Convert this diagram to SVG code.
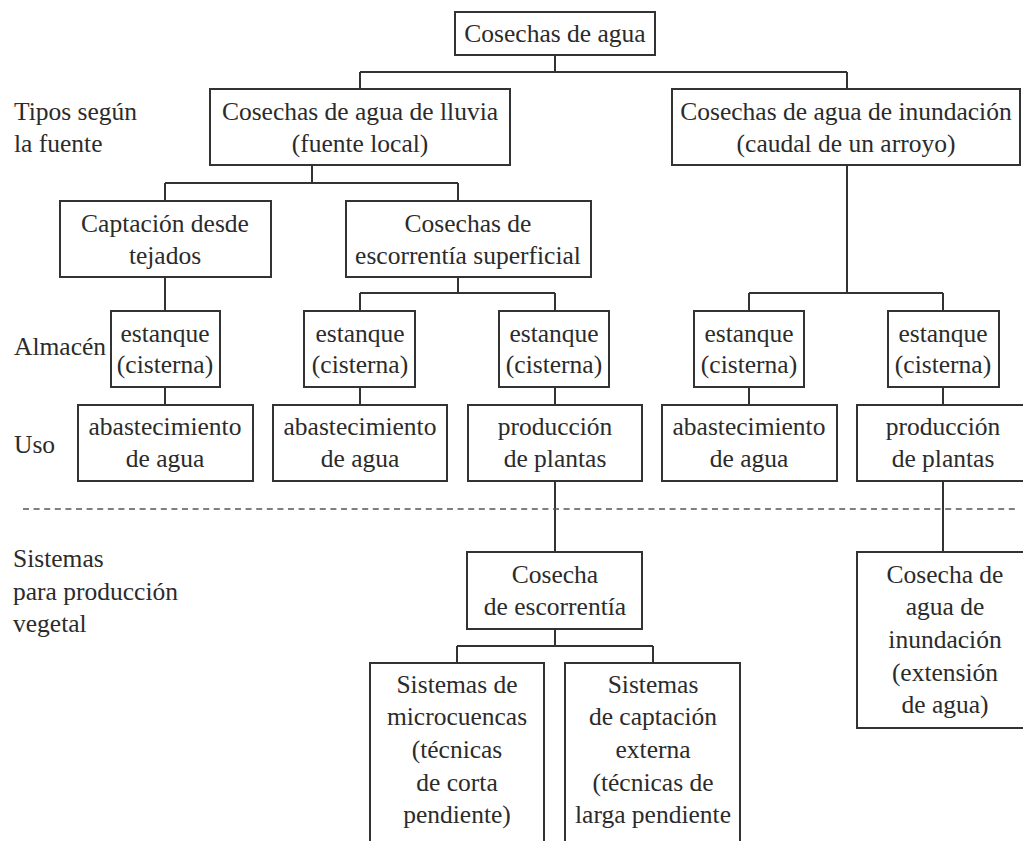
<svg xmlns="http://www.w3.org/2000/svg" width="1023" height="841" viewBox="0 0 1023 841">
<style>
  .box { fill: #ffffff; stroke: #333333; stroke-width: 2; }
  .t { font-family: "Liberation Serif", "Times New Roman", serif; font-size: 25.5px; fill: #2b2b2b; text-anchor: middle; }
  .lbl { font-family: "Liberation Serif", "Times New Roman", serif; font-size: 25.5px; fill: #2b2b2b; }
  .con { stroke: #333333; stroke-width: 2; fill: none; }
  .dash { stroke: #555555; stroke-width: 1.6; stroke-dasharray: 6 4.6; fill: none; }
</style>
<rect width="1023" height="841" fill="#ffffff"/>

<g id="labels">
  <text class="lbl" x="14" y="120">Tipos según</text>
  <text class="lbl" x="14" y="152">la fuente</text>
  <text class="lbl" x="14" y="355">Almacén</text>
  <text class="lbl" x="14" y="453">Uso</text>
  <text class="lbl" x="13" y="567">Sistemas</text>
  <text class="lbl" x="13" y="600">para producción</text>
  <text class="lbl" x="13" y="632">vegetal</text>
</g>

<g id="connectors">
  <path class="con" d="M555,55 V72 M360,72 H847 M360,72 V89 M847,72 V89"/>
  <path class="con" d="M312,165 V183 M165,183 H458 M165,183 V201 M458,183 V201"/>
  <path class="con" d="M165,277 V311 M165,387 V405"/>
  <path class="con" d="M458,277 V293 M360,293 H555 M360,293 V311 M555,293 V311"/>
  <path class="con" d="M360,387 V405 M555,387 V405"/>
  <path class="con" d="M847,165 V293 M749,293 H943 M749,293 V311 M943,293 V311"/>
  <path class="con" d="M749,387 V405 M943,387 V405"/>
  <path class="con" d="M555,481 V552 M943,481 V552"/>
  <path class="con" d="M555,629 V646 M457,646 H653 M457,646 V663 M653,646 V663"/>
  <path class="dash" d="M23,509 H1017"/>
</g>

<g id="n-root">
  <rect class="box" x="455" y="12" width="200" height="43"/>
  <text class="t" x="555" y="42">Cosechas de agua</text>
</g>

<g id="n-lluvia">
  <rect class="box" x="210" y="89" width="300" height="76"/>
  <text class="t" x="360" y="120">Cosechas de agua de lluvia</text>
  <text class="t" x="360" y="152">(fuente local)</text>
</g>

<g id="n-inundacion">
  <rect class="box" x="672" y="89" width="348" height="76"/>
  <text class="t" x="846" y="120">Cosechas de agua de inundación</text>
  <text class="t" x="846" y="152">(caudal de un arroyo)</text>
</g>

<g id="n-tejados">
  <rect class="box" x="60" y="201" width="211" height="76"/>
  <text class="t" x="165" y="232">Captación desde</text>
  <text class="t" x="165" y="264">tejados</text>
</g>

<g id="n-escorrentia-sup">
  <rect class="box" x="346" y="201" width="245" height="76"/>
  <text class="t" x="468" y="232">Cosechas de</text>
  <text class="t" x="468" y="264">escorrentía superficial</text>
</g>

<g id="n-estanque1">
  <rect class="box" x="111" y="311" width="109" height="76"/>
  <text class="t" x="165" y="342">estanque</text>
  <text class="t" x="165" y="373">(cisterna)</text>
</g>
<g id="n-estanque2">
  <rect class="box" x="304" y="311" width="111" height="76"/>
  <text class="t" x="360" y="342">estanque</text>
  <text class="t" x="360" y="373">(cisterna)</text>
</g>
<g id="n-estanque3">
  <rect class="box" x="499" y="311" width="110" height="76"/>
  <text class="t" x="554" y="342">estanque</text>
  <text class="t" x="554" y="373">(cisterna)</text>
</g>
<g id="n-estanque4">
  <rect class="box" x="694" y="311" width="110" height="76"/>
  <text class="t" x="749" y="342">estanque</text>
  <text class="t" x="749" y="373">(cisterna)</text>
</g>
<g id="n-estanque5">
  <rect class="box" x="888" y="311" width="111" height="76"/>
  <text class="t" x="943" y="342">estanque</text>
  <text class="t" x="943" y="373">(cisterna)</text>
</g>

<g id="n-uso1">
  <rect class="box" x="78" y="405" width="175" height="76"/>
  <text class="t" x="165" y="435">abastecimiento</text>
  <text class="t" x="165" y="467">de agua</text>
</g>
<g id="n-uso2">
  <rect class="box" x="273" y="405" width="174" height="76"/>
  <text class="t" x="360" y="435">abastecimiento</text>
  <text class="t" x="360" y="467">de agua</text>
</g>
<g id="n-uso3">
  <rect class="box" x="468" y="405" width="174" height="76"/>
  <text class="t" x="555" y="435">producción</text>
  <text class="t" x="555" y="467">de plantas</text>
</g>
<g id="n-uso4">
  <rect class="box" x="662" y="405" width="175" height="76"/>
  <text class="t" x="749" y="435">abastecimiento</text>
  <text class="t" x="749" y="467">de agua</text>
</g>
<g id="n-uso5">
  <rect class="box" x="857" y="405" width="174" height="76"/>
  <text class="t" x="943" y="435">producción</text>
  <text class="t" x="943" y="467">de plantas</text>
</g>

<g id="n-cosecha-escorrentia">
  <rect class="box" x="467" y="552" width="175" height="77"/>
  <text class="t" x="555" y="583">Cosecha</text>
  <text class="t" x="555" y="615">de escorrentía</text>
</g>

<g id="n-cosecha-inundacion">
  <rect class="box" x="857" y="552" width="174" height="176"/>
  <text class="t" x="945" y="583">Cosecha de</text>
  <text class="t" x="945" y="615">agua de</text>
  <text class="t" x="945" y="648">inundación</text>
  <text class="t" x="945" y="681">(extensión</text>
  <text class="t" x="945" y="713">de agua)</text>
</g>

<g id="n-microcuencas">
  <rect class="box" x="370" y="663" width="174" height="200"/>
  <text class="t" x="457" y="693">Sistemas de</text>
  <text class="t" x="457" y="725">microcuencas</text>
  <text class="t" x="457" y="758">(técnicas</text>
  <text class="t" x="457" y="791">de corta</text>
  <text class="t" x="457" y="823">pendiente)</text>
</g>

<g id="n-captacion-externa">
  <rect class="box" x="565" y="663" width="175" height="200"/>
  <text class="t" x="653" y="693">Sistemas</text>
  <text class="t" x="653" y="725">de captación</text>
  <text class="t" x="653" y="758">externa</text>
  <text class="t" x="653" y="791">(técnicas de</text>
  <text class="t" x="653" y="823">larga pendiente</text>
</g>
</svg>
